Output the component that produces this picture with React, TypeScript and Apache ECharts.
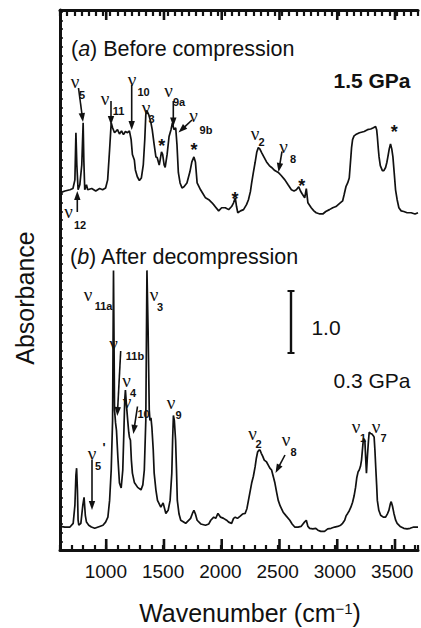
import React, { useEffect, useRef } from "react";
import * as echarts from "echarts";

// ---- axis ----
const X_MIN = 600;
const X_MAX = 3725;
const Y_MIN = 0;
const Y_MAX = 8.71;
const xTickLabels = [1000, 1500, 2000, 2500, 3000, 3500];
const TOP_MINOR_STEP = 62.5;
const GRID = { left: 60, top: 10, right: 0, bottom: 78 };
const W = 421;
const H = 628;

// ---- (a) Before compression, 1.5 GPa ----
const wavenumbersA = [
  600, 643, 687, 713, 730, 739, 747, 758, 773, 790, 802, 808, 816, 831, 842, 877, 912, 946, 972, 998,
  1016, 1033, 1047, 1059, 1076, 1102, 1119, 1137, 1154, 1171, 1189, 1206, 1221, 1232, 1249, 1258, 1275, 1293, 1310, 1327,
  1340, 1349, 1356, 1362, 1375, 1394, 1405, 1422, 1437, 1448, 1466, 1474, 1486, 1496, 1509, 1518, 1535, 1552, 1569, 1581,
  1595, 1610, 1621, 1633, 1648, 1665, 1682, 1708, 1734, 1751, 1769, 1782, 1797, 1827, 1847, 1870, 1899, 1927, 1950, 1985,
  2011, 2043, 2072, 2098, 2115, 2130, 2141, 2152, 2176, 2202, 2228, 2245, 2262, 2273, 2288, 2303, 2318, 2331, 2344, 2360,
  2383, 2403, 2427, 2447, 2475, 2505, 2531, 2563, 2591, 2620, 2643, 2663, 2684, 2699, 2712, 2736, 2750, 2764, 2793, 2816,
  2836, 2868, 2894, 2920, 2952, 2981, 3009, 3041, 3067, 3080, 3096, 3111, 3125, 3132, 3139, 3145, 3154, 3167, 3182, 3214,
  3255, 3284, 3312, 3336, 3355, 3364, 3370, 3379, 3385, 3396, 3414, 3427, 3442, 3453, 3462, 3474, 3485, 3496, 3506, 3517,
  3529, 3543, 3558, 3578, 3601, 3630, 3665, 3699, 3725,
];
const absorbanceA = [
  0.32, 0.35, 0.37, 0.39, 0.53, 1.29, 0.77, 0.37, 0.45, 0.77, 1.45, 0.85, 0.37, 0.45, 0.37, 0.39, 0.35, 0.39, 0.37, 0.40,
  0.53, 1.02, 1.45, 1.37, 1.29, 1.34, 1.27, 1.32, 1.26, 1.31, 1.29, 1.32, 1.18, 0.94, 0.85, 0.69, 0.58, 0.52, 0.56, 0.77,
  1.18, 1.58, 1.65, 1.63, 1.58, 1.45, 1.34, 1.10, 0.90, 0.89, 0.77, 0.85, 0.98, 0.94, 0.77, 0.73, 0.94, 1.23, 1.34, 1.45,
  1.34, 1.37, 1.10, 0.65, 0.48, 0.40, 0.42, 0.48, 0.66, 0.82, 0.90, 0.82, 0.48, 0.37, 0.31, 0.24, 0.21, 0.16, 0.11, 0.03,
  0.08, 0.08, 0.05, 0.10, 0.16, 0.24, 0.10, 0.00, 0.03, 0.05, 0.13, 0.21, 0.34, 0.48, 0.65, 0.81, 0.98, 1.05, 1.03, 0.97,
  0.89, 0.82, 0.76, 0.73, 0.68, 0.65, 0.60, 0.53, 0.45, 0.37, 0.35, 0.37, 0.42, 0.35, 0.31, 0.24, 0.39, 0.16, 0.08, 0.03,
  0.00, -0.02, -0.02, 0.02, 0.05, 0.08, 0.10, 0.15, 0.19, 0.29, 0.42, 0.48, 0.56, 0.73, 0.90, 1.05, 1.18, 1.24, 1.26, 1.29,
  1.31, 1.34, 1.35, 1.37, 1.39, 1.34, 1.23, 1.02, 0.90, 0.76, 0.68, 0.68, 0.73, 0.81, 0.90, 1.03, 1.11, 1.03, 0.90, 0.65,
  0.37, 0.21, 0.08, 0.03, 0.02, 0.00, 0.00, -0.02, 0.00,
];
const OFFSET_A = 5.44;

// ---- (b) After decompression, 0.3 GPa ----
const wavenumbersB = [
  600, 643, 687, 715, 730, 739, 745, 752, 758, 764, 782, 799, 810, 821, 831, 851, 874, 903, 946, 975,
  998, 1018, 1033, 1047, 1059, 1067, 1076, 1085, 1093, 1105, 1119, 1134, 1148, 1158, 1165, 1171, 1180, 1191, 1200, 1206,
  1215, 1223, 1232, 1249, 1278, 1307, 1323, 1336, 1349, 1359, 1369, 1379, 1385, 1394, 1402, 1414, 1422, 1437, 1451, 1480,
  1500, 1524, 1544, 1561, 1576, 1583, 1590, 1598, 1609, 1617, 1624, 1639, 1654, 1697, 1740, 1756, 1769, 1782, 1797, 1829,
  1870, 1899, 1916, 1942, 1959, 1979, 2002, 2028, 2054, 2072, 2098, 2115, 2130, 2149, 2176, 2193, 2216, 2232, 2245, 2258,
  2273, 2288, 2303, 2314, 2325, 2336, 2346, 2357, 2370, 2383, 2403, 2418, 2432, 2447, 2461, 2476, 2491, 2505, 2522, 2548,
  2574, 2606, 2626, 2649, 2678, 2704, 2721, 2734, 2750, 2764, 2779, 2807, 2833, 2851, 2877, 2909, 2937, 2966, 2998, 3024,
  3050, 3067, 3085, 3097, 3111, 3124, 3139, 3154, 3167, 3180, 3191, 3202, 3212, 3223, 3232, 3241, 3249, 3261, 3267, 3275,
  3284, 3293, 3299, 3310, 3323, 3336, 3342, 3349, 3356, 3364, 3370, 3383, 3399, 3422, 3442, 3457, 3471, 3483, 3491, 3502,
  3515, 3530, 3543, 3569, 3601, 3630, 3656, 3688, 3725,
];
const absorbanceB = [
  0.06, 0.05, 0.05, 0.11, 0.40, 0.89, 1.00, 0.65, 0.16, 0.08, 0.11, 0.40, 0.53, 0.24, 0.13, 0.08, 0.05, 0.03, 0.06, 0.08,
  0.13, 0.21, 0.48, 0.97, 1.77, 4.19, 1.94, 1.73, 1.61, 1.18, 0.76, 0.68, 0.97, 1.61, 2.10, 2.26, 2.02, 1.77, 1.58, 1.50,
  1.45, 1.13, 0.92, 0.77, 0.69, 0.65, 0.73, 0.97, 1.77, 4.19, 3.23, 1.94, 1.77, 1.81, 1.66, 1.29, 0.92, 0.65, 0.48, 0.37,
  0.44, 0.27, 0.32, 0.48, 0.92, 1.45, 1.85, 1.77, 1.45, 0.97, 0.48, 0.26, 0.16, 0.11, 0.19, 0.27, 0.32, 0.26, 0.16, 0.10,
  0.08, 0.10, 0.16, 0.21, 0.19, 0.27, 0.21, 0.19, 0.16, 0.13, 0.11, 0.19, 0.21, 0.19, 0.23, 0.26, 0.27, 0.35, 0.48, 0.61,
  0.76, 0.87, 1.02, 1.16, 1.26, 1.29, 1.29, 1.24, 1.19, 1.13, 1.10, 1.05, 1.00, 0.97, 0.87, 0.76, 0.61, 0.48, 0.39, 0.29,
  0.23, 0.16, 0.10, 0.05, 0.05, 0.06, 0.10, 0.13, 0.16, 0.06, 0.03, 0.02, 0.03, 0.00, -0.02, -0.02, 0.02, 0.03, 0.05, 0.06,
  0.08, 0.11, 0.16, 0.23, 0.27, 0.31, 0.37, 0.45, 0.55, 0.69, 0.85, 0.94, 0.97, 1.03, 1.13, 1.32, 1.48, 1.45, 1.21, 0.92,
  1.21, 1.45, 1.58, 1.56, 1.55, 1.52, 1.50, 1.29, 1.02, 0.73, 0.48, 0.32, 0.24, 0.21, 0.21, 0.26, 0.32, 0.42, 0.46, 0.39,
  0.27, 0.16, 0.11, 0.06, 0.03, 0.02, 0.03, 0.05, 0.05,
];
const OFFSET_B = 0.32;

const SCALE_BAR_VALUE = "1.0";

const BLACK = "#111";
const SANS = '"Liberation Sans", Arial, Helvetica, sans-serif';
const SERIF = '"Liberation Serif", "Times New Roman", serif';

function txt(x: number, y: number, text: string, font: string, align = "center", vAlign = "middle") {
  return {
    type: "text",
    x,
    y,
    silent: true,
    style: {
      text,
      font,
      fill: BLACK,
      align,
      verticalAlign: vAlign,
      textAlign: align,
      textVerticalAlign: vAlign,
    },
  };
}

function nu(x: number, y: number, sub: string, sx: number, sy: number) {
  return [txt(x, y, "ν", `19px ${SERIF}`), txt(sx, sy, sub, `bold 11px ${SANS}`)];
}

function arrow(x1: number, y1: number, x2: number, y2: number, head = 9, hw = 3.2) {
  const dx = x2 - x1;
  const dy = y2 - y1;
  const L = Math.hypot(dx, dy);
  const ux = dx / L;
  const uy = dy / L;
  const bx = x2 - ux * head;
  const by = y2 - uy * head;
  return [
    { type: "line", silent: true, shape: { x1, y1, x2: bx + ux, y2: by + uy }, style: { stroke: BLACK, lineWidth: 1.6 } },
    {
      type: "polygon",
      silent: true,
      shape: { points: [[x2, y2], [bx - uy * hw, by + ux * hw], [bx + uy * hw, by - ux * hw]] },
      style: { fill: BLACK },
    },
  ];
}

function star(x: number, y: number) {
  return txt(x, y + 3, "*", `bold 18px ${SANS}`);
}

function vline(x: number, ya: number, yb: number, w: number) {
  return {
    type: "rect",
    silent: true,
    z: 100,
    shape: { x: x - w / 2, y: Math.min(ya, yb), width: w, height: Math.abs(yb - ya) },
    style: { fill: BLACK },
  };
}

function buildTicks() {
  const pw = W - GRID.left - GRID.right;
  const xPix = (v: number) => GRID.left + ((v - X_MIN) / (X_MAX - X_MIN)) * pw;
  const yTop = GRID.top;
  const yBot = H - GRID.bottom;
  const t: any[] = [];
  xTickLabels.forEach((v) => {
    t.push(vline(xPix(v), yBot, yBot - 11, 2.6));
    t.push(vline(xPix(v), yTop, yTop + 10, 2.6));
  });
  return t;
}

function buildGraphics() {
  const g: any[] = [];
  g.push({
    type: "text",
    x: 71,
    y: 49,
    silent: true,
    style: {
      text: "{n|(}{i|a}{n|) Before compression}",
      verticalAlign: "middle",
      textVerticalAlign: "middle",
      rich: {
        n: { font: `21.5px ${SANS}`, fill: BLACK },
        i: { font: `italic 21.5px ${SANS}`, fill: BLACK },
      },
    },
  });
  g.push({
    type: "text",
    x: 70,
    y: 257,
    silent: true,
    style: {
      text: "{n|(}{i|b}{n|) After decompression}",
      verticalAlign: "middle",
      textVerticalAlign: "middle",
      rich: {
        n: { font: `21.5px ${SANS}`, fill: BLACK },
        i: { font: `italic 21.5px ${SANS}`, fill: BLACK },
      },
    },
  });
  g.push(txt(372, 80, "1.5 GPa", `bold 21px ${SANS}`));
  g.push(txt(372, 380, "0.3 GPa", `21px ${SANS}`));

  // scale bar
  g.push(vline(291, 291, 353, 2.4));
  g.push({ type: "rect", silent: true, shape: { x: 287.5, y: 290, width: 7, height: 2 }, style: { fill: BLACK } });
  g.push({ type: "rect", silent: true, shape: { x: 287.5, y: 352, width: 7, height: 2 }, style: { fill: BLACK } });
  g.push(txt(326, 327, SCALE_BAR_VALUE, `21px ${SANS}`));

  // axis titles
  g.push({
    type: "text",
    x: 25,
    y: 298,
    rotation: Math.PI / 2,
    silent: true,
    style: { text: "Absorbance", font: `25px ${SANS}`, fill: BLACK, align: "center", verticalAlign: "middle", textAlign: "center", textVerticalAlign: "middle" },
  });
  g.push({
    type: "text",
    x: 250,
    y: 613,
    silent: true,
    style: {
      text: "{a|Wavenumber (cm}{b|−1}{a|)}",
      align: "center",
      verticalAlign: "middle",
      textAlign: "center",
      textVerticalAlign: "middle",
      rich: {
        a: { font: `25px ${SANS}`, fill: BLACK, lineHeight: 25, verticalAlign: "bottom" },
        b: { font: `15px ${SANS}`, fill: BLACK, lineHeight: 15, verticalAlign: "top" },
      },
    },
  });

  // ---- annotations trace (a) ----
  g.push(...nu(75, 81, "5", 82, 95));
  g.push(...arrow(78.5, 88, 83, 122));
  g.push(...nu(105, 98, "11", 118.5, 111));
  g.push(...arrow(111, 101, 111, 125));
  g.push(...nu(132, 79, "10", 143.5, 92));
  g.push(...arrow(131.7, 85, 131.7, 130));
  g.push(...nu(146, 107, "3", 151.5, 118.5));
  g.push(star(161.7, 142.7));
  g.push(...nu(168.5, 90, "9a", 179, 102));
  g.push(...arrow(173.3, 101, 173.3, 126.5));
  g.push(...nu(193.5, 115, "9b", 206, 129.5));
  g.push(...arrow(192, 120, 178.5, 132.5));
  g.push(star(194, 146.7));
  g.push(star(235, 196));
  g.push(...nu(255, 133, "2", 261.5, 142));
  g.push(...nu(283.5, 146.5, "8", 293, 158.5));
  g.push(...arrow(282, 151.5, 278.5, 172));
  g.push(star(301.7, 183.3));
  g.push(star(394.3, 129.3));
  g.push(...nu(68.5, 211.5, "12", 80, 225));
  g.push(...arrow(77.3, 212, 77.3, 191));

  // ---- annotations trace (b) ----
  g.push(...nu(88, 294, "11a", 103.5, 305.5));
  g.push(...nu(154, 294, "3", 160, 306.5));
  g.push(...nu(113.5, 343, "11b", 135, 356));
  g.push(...arrow(120.7, 351, 117.3, 416));
  g.push(...nu(126.5, 380, "4", 133, 392.5));
  g.push(...nu(127, 401, "10", 143.5, 414));
  g.push(...arrow(137.5, 406.5, 133.3, 434));
  g.push(...nu(171, 402, "9", 178.5, 414.5));
  g.push(...nu(92, 453, "5", 98, 465.5));
  g.push(txt(104, 447.5, "'", `bold 13px ${SANS}`));
  g.push(...arrow(92, 460, 92, 510));
  g.push(...nu(252.5, 433, "2", 258.5, 443.5));
  g.push(...nu(286, 439, "8", 293.5, 452));
  g.push(...arrow(285, 455, 275.5, 473));
  g.push(...nu(356, 426, "1", 363, 437.5));
  g.push(...nu(376, 426, "7", 383.5, 437.5));
  return g;
}

export default function App() {
  const ref = useRef<HTMLDivElement>(null);
  useEffect(() => {
    document.body.style.margin = "0";
    const chart = echarts.init(ref.current!, null, { renderer: "svg" });
    const lineA = wavenumbersA.map((w, i) => [w, absorbanceA[i] + OFFSET_A]);
    const lineB = wavenumbersB.map((w, i) => [w, absorbanceB[i] + OFFSET_B]);
    chart.setOption({
      animation: false,
      backgroundColor: "#fff",
      grid: { ...GRID, containLabel: false },
      xAxis: [
        {
          type: "value",
          position: "bottom",
          min: X_MIN,
          max: X_MAX,
          interval: 100,
          axisLine: { show: true, onZero: false, lineStyle: { color: BLACK, width: 3 } },
          axisTick: { show: true, inside: true, length: 5, lineStyle: { color: BLACK, width: 2.2 } },
          axisLabel: {
            show: true,
            margin: 12,
            fontSize: 19,
            fontFamily: SANS,
            color: BLACK,
            formatter: (v: number) => (xTickLabels.indexOf(v) >= 0 ? String(v) : ""),
          },
          splitLine: { show: false },
        },
        {
          type: "value",
          position: "top",
          min: X_MIN,
          max: X_MAX,
          interval: TOP_MINOR_STEP,
          axisLine: { show: true, onZero: false, lineStyle: { color: BLACK, width: 3 } },
          axisTick: { show: true, inside: true, length: 6, lineStyle: { color: BLACK, width: 2.2 } },
          axisLabel: { show: false },
          splitLine: { show: false },
        },
      ],
      yAxis: {
        type: "value",
        min: Y_MIN,
        max: Y_MAX,
        interval: 0.14,
        axisLine: { show: true, onZero: false, lineStyle: { color: BLACK, width: 3 } },
        axisTick: { show: true, inside: true, length: 3, lineStyle: { color: BLACK, width: 1.5 } },
        axisLabel: { show: false },
        splitLine: { show: false },
      },
      series: [
        { type: "line", data: lineA, showSymbol: false, symbol: "none", lineStyle: { color: BLACK, width: 1.7 }, silent: true },
        { type: "line", data: lineB, showSymbol: false, symbol: "none", lineStyle: { color: BLACK, width: 1.7 }, silent: true },
      ],
    });
    chart.setOption({ graphic: [...buildTicks(), ...buildGraphics()] });
    return () => chart.dispose();
  }, []);
  return <div ref={ref} style={{ position: "absolute", left: 0, top: 0, width: W, height: H }} />;
}
